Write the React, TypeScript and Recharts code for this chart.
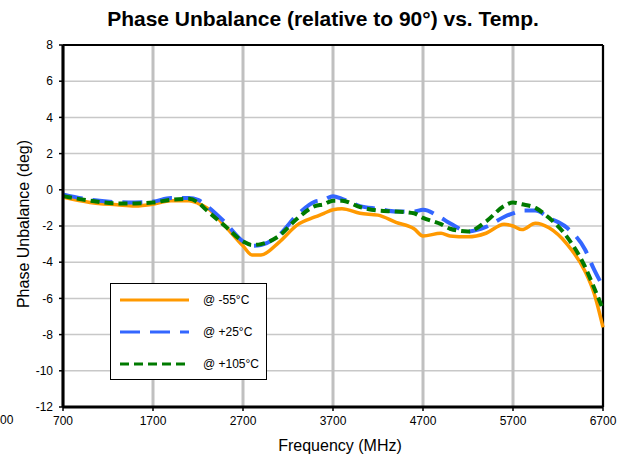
import React from "react"
import { LineChart, Line, XAxis, YAxis, CartesianGrid, ReferenceLine } from "recharts"

// Frequency points (MHz)
const freqs = [700, 1000, 1300, 1500, 1700, 1900, 2100, 2200, 2300, 2500, 2700, 2800, 2900, 3100, 3300, 3500, 3600, 3700, 3800, 4000, 4200, 4400, 4600, 4700, 4900, 5000, 5200, 5400, 5600, 5700, 5800, 5950, 6100, 6300, 6500, 6600, 6700]

// Phase unbalance (deg) per temperature
const cold = [-0.4, -0.7, -0.83, -0.9, -0.8, -0.6, -0.6, -0.75, -1.0, -2.0, -3.1, -3.6, -3.6, -2.9, -1.95, -1.5, -1.3, -1.1, -1.05, -1.3, -1.4, -1.8, -2.15, -2.55, -2.4, -2.55, -2.6, -2.4, -1.9, -2.0, -2.2, -1.85, -2.1, -3.0, -4.5, -5.7, -7.6]
const room = [-0.25, -0.55, -0.68, -0.7, -0.65, -0.45, -0.45, -0.55, -0.9, -1.8, -2.85, -3.1, -3.05, -2.5, -1.4, -0.65, -0.55, -0.35, -0.5, -0.9, -1.05, -1.2, -1.2, -1.1, -1.55, -1.85, -2.3, -2.05, -1.5, -1.3, -1.15, -1.15, -1.55, -2.1, -3.3, -4.4, -5.35]
const hot = [-0.35, -0.6, -0.75, -0.75, -0.7, -0.55, -0.5, -0.7, -1.15, -2.0, -2.85, -3.05, -3.0, -2.55, -1.6, -0.9, -0.8, -0.6, -0.6, -0.95, -1.15, -1.2, -1.3, -1.55, -1.9, -2.15, -2.3, -1.75, -0.9, -0.7, -0.8, -1.0, -1.55, -2.6, -4.25, -5.4, -6.6]

const xTicks = [700, 1700, 2700, 3700, 4700, 5700, 6700]
const yTicks = [-12, -10, -8, -6, -4, -2, 0, 2, 4, 6, 8]

const series = [
  { key: "cold", name: "@ -55°C", color: "#ff9900", dash: undefined as string | undefined },
  { key: "room", name: "@ +25°C", color: "#3366ff", dash: "20 10" },
  { key: "hot", name: "@ +105°C", color: "#007a00", dash: "9 5" },
]

const data = freqs.map((f, i) => ({ f, cold: cold[i], room: room[i], hot: hot[i] }))

const font = "'Liberation Sans', Arial, sans-serif"

export default function App() {
  return (
    <div style={{ position: "absolute", left: 0, top: 0, width: 621, height: 457, background: "#fff", fontFamily: font }}>
      <div
        style={{
          position: "absolute",
          top: 7,
          left: 0,
          width: 646,
          textAlign: "center",
          fontWeight: "bold",
          fontSize: 21,
        }}
      >
        Phase Unbalance (relative to 90°) vs. Temp.
      </div>
      <div style={{ position: "absolute", left: 0, top: 413, fontSize: 12 }}>00</div>
      <LineChart width={621} height={457} data={data} margin={{ top: 45, right: 18, bottom: 0, left: 18 }}>
        <CartesianGrid horizontal={true} vertical={false} stroke="#c8c8c8" strokeWidth={1.5} />
        <CartesianGrid horizontal={false} vertical={true} stroke="#c0c0c0" strokeWidth={3} />
        <XAxis
          dataKey="f"
          type="number"
          domain={[700, 6700]}
          ticks={xTicks}
          height={50}
          tickSize={4}
          tickMargin={5}
          axisLine={{ stroke: "#000", strokeWidth: 3 }}
          tickLine={{ stroke: "#000", strokeWidth: 1.5 }}
          tick={{ fill: "#000", fontSize: 12, fontFamily: font }}
          label={{ value: "Frequency (MHz)", position: "insideBottom", offset: 6, fill: "#000", fontSize: 16, fontFamily: font, dx: 7 }}
        />
        <YAxis
          type="number"
          domain={[-12, 8]}
          ticks={yTicks}
          width={45}
          tickSize={4}
          tickMargin={6}
          interval={0}
          axisLine={{ stroke: "#000", strokeWidth: 3 }}
          tickLine={{ stroke: "#000", strokeWidth: 1.5 }}
          tick={{ fill: "#000", fontSize: 12, fontFamily: font }}
        />
        <ReferenceLine y={8} stroke="#000" strokeWidth={2} />
        <ReferenceLine x={6700} stroke="#000" strokeWidth={2} />
        {series.map((s) => (
          <Line
            key={s.key}
            dataKey={s.key}
            name={s.name}
            type="monotone"
            stroke={s.color}
            strokeWidth={s.key === "cold" ? 3.5 : 4}
            strokeDasharray={s.dash}
            dot={false}
            isAnimationActive={false}
          />
        ))}
      </LineChart>
      <div
        style={{
          position: "absolute",
          left: 24,
          top: 224,
          transform: "translate(-50%, -50%) rotate(-90deg)",
          whiteSpace: "nowrap",
          fontSize: 16,
          color: "#000",
        }}
      >
        Phase Unbalance (deg)
      </div>
      <div
        style={{
          position: "absolute",
          left: 110,
          top: 283,
          width: 157,
          height: 97,
          border: "1px solid #000",
          background: "#fff",
          boxSizing: "border-box",
          fontSize: 12,
          color: "#000",
        }}
      >
        {series.map((s, i) => (
          <div key={s.key} style={{ position: "absolute", left: 9, top: 9 + i * 32, display: "flex", alignItems: "center" }}>
            <svg width={70} height={12}>
              <line x1={0} y1={6} x2={69} y2={6} stroke={s.color} strokeWidth={3} strokeDasharray={s.dash} />
            </svg>
            <span style={{ marginLeft: 13 }}>{s.name}</span>
          </div>
        ))}
      </div>
    </div>
  )
}
